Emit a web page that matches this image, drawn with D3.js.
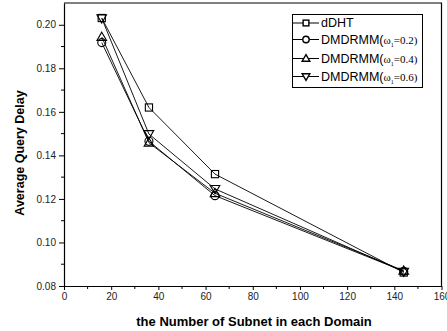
<!DOCTYPE html>
<html>
<head>
<meta charset="utf-8">
<script src="https://cdn.jsdelivr.net/npm/d3@7"></script>
<style>
  body { margin: 0; background: #fff; }
  svg { display: block; font-family: 'Liberation Sans', Arial, sans-serif; }
</style>
</head>
<body>
<div></div>
<script>
// data
const subnets = [16, 36, 64, 144];
const dDHT = [0.2031, 0.1620, 0.1314, 0.0862];
const omega02 = [0.1918, 0.1465, 0.1215, 0.0868];
const omega04 = [0.1944, 0.1458, 0.1226, 0.0870];
const omega06 = [0.2030, 0.1498, 0.1246, 0.0866];

const xTicks = [0, 20, 40, 60, 80, 100, 120, 140, 160];
const yTicks = [0.08, 0.10, 0.12, 0.14, 0.16, 0.18, 0.20];

const series = [
  { name: 'dDHT', omega: null, values: dDHT, symbol: 'square' },
  { name: 'DMDRMM', omega: '0.2', values: omega02, symbol: 'circle' },
  { name: 'DMDRMM', omega: '0.4', values: omega04, symbol: 'up' },
  { name: 'DMDRMM', omega: '0.6', values: omega06, symbol: 'down' }
];

// dimensions of svg
const w = 447;
const h = 331;
const padL = 64, padR = 441.5, padT = 3, padB = 286;

const xScale = d3.scaleLinear().domain([0, 160]).range([padL, padR]);
const yScale = d3.scaleLinear().domain([0.08, 0.21]).range([padB, padT]);

const svg = d3.select('div').append('svg').attr('width', w).attr('height', h);

// frame (top and right)
svg.append('path')
  .attr('d', `M${padL},${padT}H${padR}V${padB}`)
  .attr('fill', 'none')
  .attr('stroke', '#000')
  .attr('stroke-width', 1.2);

// minor ticks
const xMinor = d3.range(10, 160, 20);
const yMinor = d3.range(0.09, 0.21, 0.02);

const xAxis = d3.axisBottom(xScale).tickValues(xTicks).tickFormat(d3.format('d'))
  .tickSizeInner(4).tickSizeOuter(0).tickPadding(3);
const yAxis = d3.axisLeft(yScale).tickValues(yTicks).tickFormat(d3.format('.2f'))
  .tickSizeInner(5).tickSizeOuter(0).tickPadding(3);

const gx = svg.append('g').attr('transform', `translate(0,${padB})`).call(xAxis);
const gy = svg.append('g').attr('transform', `translate(${padL},0)`).call(yAxis);

gx.append('g').selectAll('line').data(xMinor).enter().append('line')
  .attr('x1', d => xScale(d)).attr('x2', d => xScale(d))
  .attr('y1', 0).attr('y2', 3).attr('stroke', '#000');
gy.append('g').selectAll('line').data(yMinor).enter().append('line')
  .attr('y1', d => yScale(d)).attr('y2', d => yScale(d))
  .attr('x1', 0).attr('x2', -3).attr('stroke', '#000');

[gx, gy].forEach(g => {
  g.select('.domain').attr('stroke-width', 1.2);
  g.selectAll('text').attr('font-size', 10).attr('fill', '#222')
    .attr('font-family', "'Liberation Sans', Arial, sans-serif");
});

// axis titles
svg.append('text')
  .attr('x', 254).attr('y', 326)
  .attr('text-anchor', 'middle')
  .attr('font-size', 13).attr('font-weight', 'bold')
  .text('the Number of Subnet in each Domain');

svg.append('text')
  .attr('transform', 'translate(24,153) rotate(-90)')
  .attr('text-anchor', 'middle')
  .attr('font-size', 12.5).attr('font-weight', 'bold')
  .text('Average Query Delay');

// markers
function drawSymbol(g, type, x, y, k) {
  const s = 3.6 * k;
  if (type === 'square') {
    g.append('rect').attr('x', x - s).attr('y', y - s).attr('width', 2 * s).attr('height', 2 * s);
  } else if (type === 'circle') {
    g.append('circle').attr('cx', x).attr('cy', y).attr('r', 4 * k);
  } else if (type === 'up') {
    g.append('path').attr('d', `M${x},${y - 4.8 * k}L${x + 4.8 * k},${y + 3.4 * k}L${x - 4.8 * k},${y + 3.4 * k}Z`);
  } else {
    g.append('path').attr('d', `M${x},${y + 4.8 * k}L${x + 4.8 * k},${y - 3.4 * k}L${x - 4.8 * k},${y - 3.4 * k}Z`);
  }
}

const line = d3.line().x((d, i) => xScale(subnets[i])).y(d => yScale(d));

series.forEach(s => {
  svg.append('path')
    .datum(s.values)
    .attr('d', line)
    .attr('fill', 'none')
    .attr('stroke', '#000')
    .attr('stroke-width', 0.9);
});
series.forEach(s => {
  const g = svg.append('g').attr('fill', 'none').attr('stroke', '#000').attr('stroke-width', 1.1);
  s.values.forEach((v, i) => drawSymbol(g, s.symbol, xScale(subnets[i]), yScale(v), 1));
});

// legend
const legend = svg.append('g');
legend.append('rect')
  .attr('x', 292.5).attr('y', 14.5).attr('width', 130).attr('height', 73)
  .attr('fill', '#fff').attr('stroke', '#000').attr('stroke-width', 1);

const legendY = [23, 39.5, 58.5, 76.5];
series.forEach((s, i) => {
  const y = legendY[i];
  legend.append('line').attr('x1', 293).attr('x2', 319).attr('y1', y).attr('y2', y)
    .attr('stroke', '#000').attr('stroke-width', 1);
  const g = legend.append('g').attr('fill', '#fff').attr('stroke', '#000').attr('stroke-width', 1.4);
  drawSymbol(g, s.symbol, 306, y, 0.8);
  const t = legend.append('text').attr('x', 321).attr('y', y + 4.3).attr('font-size', 12.5);
  t.append('tspan').text(s.omega ? s.name + '(' : s.name);
  if (s.omega) {
    const f = "'Liberation Serif', 'Times New Roman', serif";
    t.append('tspan').attr('font-family', f).attr('font-size', 11).text('ω');
    t.append('tspan').attr('font-family', f).attr('font-size', 6).attr('dy', 3).text('1');
    t.append('tspan').attr('font-family', f).attr('font-size', 11).attr('dy', -3).text('=' + s.omega + ')');
  }
});
</script>
</body>
</html>
